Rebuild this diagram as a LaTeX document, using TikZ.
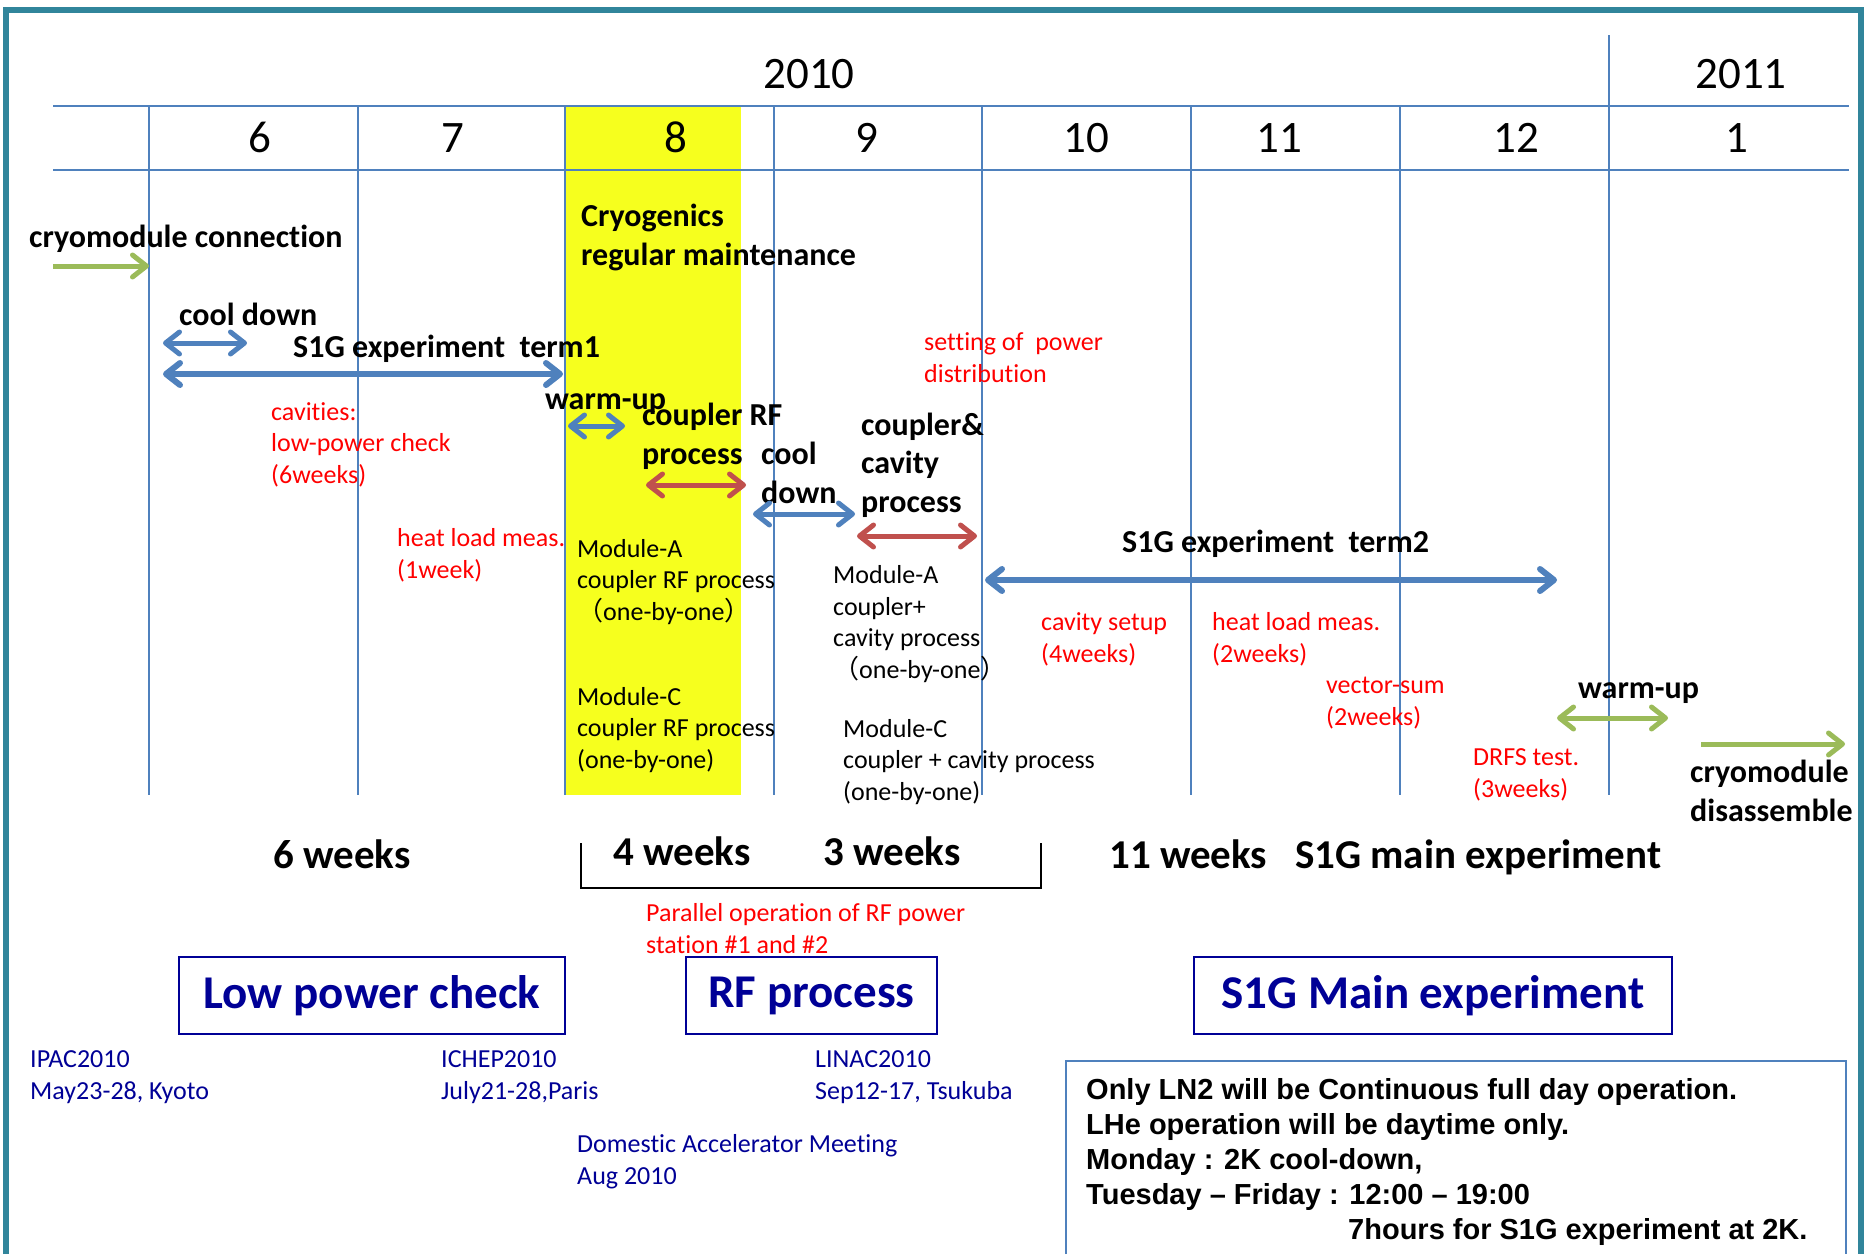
\documentclass[tikz,border=0pt]{standalone}
\usepackage{fontspec}
\setmainfont{Carlito}[Ligatures={TeX,CommonOff}]
\newfontfamily\arialfont{Liberation Sans}
\newfontfamily\cjkfont{Noto Sans CJK JP}
\usetikzlibrary{arrows.meta}

\definecolor{gridblue}{RGB}{79,129,189}
\definecolor{arrred}{RGB}{192,80,77}
\definecolor{arrgreen}{RGB}{155,187,89}
\definecolor{frameteal}{RGB}{49,133,155}
\definecolor{hiyellow}{RGB}{246,255,30}
\definecolor{navy}{RGB}{0,0,150}

% full-width parentheses
\newcommand{\fwl}{{\cjkfont （}}
\newcommand{\fwr}{{\cjkfont ）}}

\begin{document}
% multi-line labels are placed by the baseline of their last line
\begin{tikzpicture}[x=1pt,y=-1pt,
  barb/.tip={Straight Barb[length=14pt,width=22pt,round]},
  twoway/.style={arrows={barb-barb}},
  oneway/.style={arrows={-barb}},
  bluearr/.style={draw=gridblue,line width=5pt,twoway},
  bigarr/.style={draw=gridblue,line width=6pt,twoway},
  redarr/.style={draw=arrred,line width=5pt,twoway},
  greenarr/.style={draw=arrgreen,line width=5pt},
  gridline/.style={draw=gridblue,line width=2.6pt},
  month/.style={font=\fontsize{45}{54}\selectfont,anchor=base,inner sep=0pt},
  boldlbl/.style={font=\bfseries\fontsize{32}{38.5}\selectfont,anchor=base west,inner sep=0pt,align=left},
  redlbl/.style={text=red,font=\fontsize{26}{31.5}\selectfont,anchor=base west,inner sep=0pt,align=left},
  plainlbl/.style={font=\fontsize{26}{31.5}\selectfont,anchor=base west,inner sep=0pt,align=left},
  navylbl/.style={text=navy,font=\fontsize{26}{31.5}\selectfont,anchor=base west,inner sep=0pt,align=left},
  weekslbl/.style={font=\bfseries\fontsize{41}{49}\selectfont,anchor=base west,inner sep=0pt},
  phasebox/.style={draw=navy,line width=2.6pt,text=navy,font=\bfseries\fontsize{47}{56}\selectfont,
    minimum height=77pt,inner sep=0pt},
  notetxt/.style={font=\arialfont\bfseries\fontsize{29}{35}\selectfont,anchor=base west,inner sep=0pt,align=left}
]
\useasboundingbox (0,0) rectangle (1865,1254);
\fill[white] (0,0) rectangle (1865,1254);

% outer frame
\draw[frameteal,line width=6pt] (6,1254) -- (6,10) -- (1861,10) -- (1861,1254);

% highlighted month (August)
\fill[hiyellow] (566,106) rectangle (741,795);

% month grid
\draw[gridline] (53,106) -- (1849,106);
\draw[gridline] (53,170) -- (1849,170);
\foreach \x in {149,358,565,774,982,1191,1400}
  \draw[gridline] (\x,106) -- (\x,795);
\draw[gridline] (1609,35) -- (1609,795);

% years and months
\node[month] (y2010) at (809,88) {2010};
\node[month] (y2011) at (1741,88) {2011};
\node[month] (m6)  at (260,152)  {6};
\node[month] (m7)  at (453,152)  {7};
\node[month] (m8)  at (676,152)  {8};
\node[month] (m9)  at (867,152)  {9};
\node[month] (m10) at (1086,152) {10};
\node[month] (m11) at (1279,152) {11};
\node[month] (m12) at (1516,152) {12};
\node[month] (m1)  at (1737,152) {1};

% schedule labels
\node[boldlbl] (conn) at (29,247) {cryomodule connection};
\node[boldlbl] (maint) at (581,265) {Cryogenics\\regular maintenance};
\node[boldlbl] (cd1) at (179,325) {cool down};
\node[boldlbl] (term1) at (293,357) {S1G experiment~~term1};
\node[boldlbl] (wu1) at (545,409) {warm-up};
\node[boldlbl] (crf) at (642,464) {coupler RF\\process};
\node[boldlbl] (cd2) at (761,503) {cool\\down};
\node[boldlbl] (ccp) at (861,512) {coupler\&\\cavity\\process};
\node[boldlbl] (term2) at (1122,552) {S1G experiment~~term2};
\node[boldlbl] (wu2) at (1578,698) {warm-up};
\node[boldlbl] (disas) at (1690,821) {cryomodule\\disassemble};

% red notes
\node[redlbl] (lowpw) at (271,483) {cavities:\\low-power check\\(6weeks)};
\node[redlbl] (hl1) at (397,578) {heat load meas.\\(1week)};
\node[redlbl] (setpw) at (924,382) {setting of~~power\\distribution};
\node[redlbl] (csetup) at (1041,662) {cavity setup\\(4weeks)};
\node[redlbl] (hl2) at (1212,662) {heat load meas.\\(2weeks)};
\node[redlbl] (vsum) at (1326,725) {vector-sum\\(2weeks)};
\node[redlbl] (drfs) at (1473,797) {DRFS test.\\(3weeks)};
\node[redlbl] (parop) at (646,953) {Parallel operation of RF power\\station \#1 and \#2};

% module notes
\node[plainlbl] (modA1) at (577,620) {Module-A\\coupler RF process\\\fwl one-by-one\fwr};
\node[plainlbl] (modC1) at (577,768) {Module-C\\coupler RF process\\(one-by-one)};
\node[plainlbl] (modA2) at (833,678) {Module-A\\coupler+\\cavity process\\\fwl one-by-one\fwr};
\node[plainlbl] (modC2) at (843,800) {Module-C\\coupler + cavity process\\(one-by-one)};

% arrows
\coordinate (a1s) at (53,266);   \coordinate (a1e) at (149,266);
\coordinate (a2s) at (163,343);  \coordinate (a2e) at (247,343);
\coordinate (a3s) at (163,374);  \coordinate (a3e) at (563,374);
\coordinate (a4s) at (568,426);  \coordinate (a4e) at (625,426);
\coordinate (a5s) at (646,485);  \coordinate (a5e) at (746,485);
\coordinate (a6s) at (753,514);  \coordinate (a6e) at (855,514);
\coordinate (a7s) at (857,536);  \coordinate (a7e) at (977,536);
\coordinate (a8s) at (985,580);  \coordinate (a8e) at (1557,580);
\coordinate (a9s) at (1557,718); \coordinate (a9e) at (1668,718);
\coordinate (a10s) at (1701,744); \coordinate (a10e) at (1845,744);

\draw[greenarr,oneway] (a1s) -- (a1e);
\draw[bluearr] (a2s) -- (a2e);
\draw[bigarr] (a3s) -- (a3e);
\draw[bluearr] (a4s) -- (a4e);
\draw[redarr] (a5s) -- (a5e);
\draw[bluearr] (a6s) -- (a6e);
\draw[redarr] (a7s) -- (a7e);
\draw[bigarr] (a8s) -- (a8e);
\draw[greenarr,twoway] (a9s) -- (a9e);
\draw[greenarr,oneway] (a10s) -- (a10e);

% durations
\node[weekslbl] (w6) at (273,868) {6 weeks};
\node[weekslbl] (w4) at (613,865) {4 weeks};
\node[weekslbl] (w3) at (823,865) {3 weeks};
\node[weekslbl] (w11) at (1109,868) {11 weeks~~~S1G main experiment};
\draw[black,line width=2pt] (581,843) -- (581,888) -- (1041,888) -- (1041,843);

% phases
\node[phasebox,minimum width=386pt] (lpc) at (372,995.5) {Low power check};
\node[phasebox,minimum width=251pt] (rfp) at (811.5,995.5) {RF process};
\node[phasebox,minimum width=478pt] (mainx) at (1433,995.5) {S1G Main experiment};

% conferences
\node[navylbl] (ipac) at (30,1099) {IPAC2010\\May23-28, Kyoto};
\node[navylbl] (ichep) at (441,1099) {ICHEP2010\\July21-28,Paris};
\node[navylbl] (linac) at (815,1099) {LINAC2010\\Sep12-17, Tsukuba};
\node[navylbl] (dom) at (577,1184) {Domestic Accelerator Meeting\\Aug 2010};

% operation note
\draw[gridblue,line width=2.2pt] (1066,1254) -- (1066,1061) -- (1846,1061) -- (1846,1254);
\node[notetxt] (note) at (1086,1239) {Only LN2 will be Continuous full day operation.\\
LHe operation will be daytime only.\\
Monday : 2K cool-down,\\
Tuesday – Friday : 12:00 – 19:00\\
\hspace*{262pt}7hours for S1G experiment at 2K.};
\end{tikzpicture}
\end{document}
